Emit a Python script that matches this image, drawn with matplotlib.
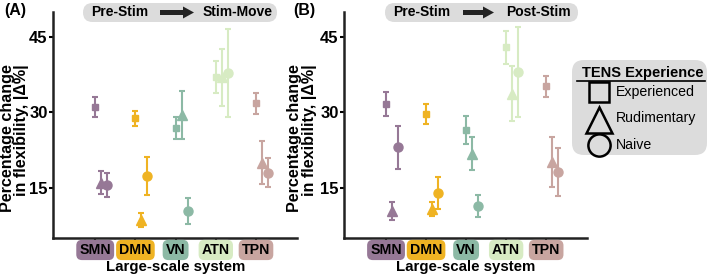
import matplotlib
matplotlib.use("Agg")
import matplotlib.pyplot as plt
from matplotlib.patches import FancyBboxPatch, FancyArrow
import numpy as np

plt.rcParams['font.family'] = ['Liberation Sans', 'DejaVu Sans']

systems = ["SMN", "DMN", "VN", "ATN", "TPN"]
colors = ["#967896", "#efb323", "#8cb9a5", "#d7ebc3", "#c8a5a0"]
groups = ["Experienced", "Rudimentary", "Naive"]
group_markers = ["s", "^", "o"]

# Panel A: Pre-Stim -> Stim-Move
a_exp_mean = [31.0, 28.8, 26.9, 37.0, 31.8]
a_exp_err = [2.0, 1.5, 2.2, 3.2, 2.1]
a_rud_mean = [16.0, 8.6, 29.5, 37.0, 20.0]
a_rud_err = [2.3, 1.4, 4.7, 5.7, 4.3]
a_nai_mean = [15.6, 17.3, 10.4, 37.8, 18.0]
a_nai_err = [2.4, 3.8, 2.6, 8.8, 2.9]

# Panel B: Pre-Stim -> Post-Stim
b_exp_mean = [31.6, 29.7, 26.5, 43.0, 35.2]
b_exp_err = [2.4, 2.0, 2.7, 3.3, 2.1]
b_rud_mean = [10.4, 10.8, 21.8, 33.7, 20.1]
b_rud_err = [1.8, 1.4, 3.3, 5.5, 5.0]
b_nai_mean = [23.1, 14.0, 11.4, 38.0, 18.2]
b_nai_err = [4.3, 3.2, 2.2, 9.0, 4.8]

yticks = [15, 30, 45]

W, H = 709.0, 276.0
fig = plt.figure(figsize=(W / 100, H / 100), dpi=100)

# overlay axes in pixel coordinates for decorations
ov = fig.add_axes([0, 0, 1, 1], zorder=0)
ov.set_xlim(0, W)
ov.set_ylim(H, 0)
ov.axis('off')

marker_sizes = [4.8, 6.5, 6.5]

def draw_panel(ax, means, errs, label_x):
    x = np.arange(1, len(systems) + 1)
    offsets = [0.0, 0.15, 0.3]
    for g, (m, e) in enumerate(zip(means, errs)):
        for i in range(len(systems)):
            ax.errorbar(x[i] + offsets[g], m[i], yerr=e[i], fmt=group_markers[g],
                        color=colors[i], ms=marker_sizes[g], elinewidth=1.5,
                        capsize=2.5, capthick=1.5, zorder=3)
    ax.set_xlim(-0.05, 6.02)
    ax.set_ylim(5, 50)
    ax.set_yticks(yticks)
    ax.set_yticklabels([str(t) for t in yticks], fontsize=12, fontweight='bold')
    ax.set_xticks(x)
    ax.set_xticklabels([])
    ax.tick_params(axis='x', length=4, width=1.5)
    ax.tick_params(axis='y', length=3, width=1.5, pad=0.8)
    ax.patch.set_alpha(0)
    for s in ['top', 'right']:
        ax.spines[s].set_visible(False)
    for s in ['left', 'bottom']:
        ax.spines[s].set_linewidth(1.8)
        ax.spines[s].set_color('#222222')
    for i, name in enumerate(systems):
        ax.text(x[i], -0.053, name, transform=ax.get_xaxis_transform(),
                ha='center', va='center', fontsize=10.2, fontweight='bold',
                bbox=dict(boxstyle='round,pad=0.22,rounding_size=0.4',
                          fc=colors[i], ec='none'))
    ax.text(3.0, -0.128, "Large-scale system", transform=ax.get_xaxis_transform(),
            ha='center', va='center', fontsize=10.8, fontweight='bold')
    ax.set_ylabel("Percentage change\nin flexibility, |\u0394%|", fontsize=11.6,
                  fontweight='bold', linespacing=0.95, multialignment='right')
    ax.yaxis.set_label_coords(label_x, 0.44)

axA = fig.add_axes([53 / W, 38 / H, 244 / W, 226 / H], zorder=2)
axB = fig.add_axes([344 / W, 38 / H, 243 / W, 226 / H], zorder=2)
draw_panel(axA, [a_exp_mean, a_rud_mean, a_nai_mean],
           [a_exp_err, a_rud_err, a_nai_err], -0.097)
draw_panel(axB, [b_exp_mean, b_rud_mean, b_nai_mean],
           [b_exp_err, b_rud_err, b_nai_err], -0.112)

def header(x0, x1, left_txt, right_txt, lc, rc, a0, a1):
    y0, y1 = 3, 22
    ov.add_patch(FancyBboxPatch((x0, y0), x1 - x0, y1 - y0,
                                boxstyle='round,pad=0,rounding_size=9.5',
                                fc='#dcdcdc', ec='none'))
    yc = 12.5
    ov.text(lc, yc, left_txt, ha='center', va='center', fontsize=10,
            fontweight='bold')
    ov.text(rc, yc, right_txt, ha='center', va='center', fontsize=10,
            fontweight='bold')
    ov.add_patch(FancyArrow(a0, yc, a1 - a0, 0, width=5, head_width=12,
                            head_length=11, length_includes_head=True,
                            fc='#222222', ec='none'))

header(83, 277, "Pre-Stim", "Stim-Move", 120, 238, 160, 194)
header(385, 578, "Pre-Stim", "Post-Stim", 422, 538, 463, 494)

ov.text(4, 11, "(A)", ha='left', va='center', fontsize=11.5, fontweight='bold')
ov.text(293, 11, "(B)", ha='left', va='center', fontsize=11.5, fontweight='bold')

# Legend
lx0, lx1, ly0, ly1 = 572, 707, 60, 155
ov.add_patch(FancyBboxPatch((lx0, ly0), lx1 - lx0, ly1 - ly0,
                            boxstyle='round,pad=0,rounding_size=12',
                            fc='#dcdcdc', ec='none'))
ov.text(643, 72.5, "TENS Experience", ha='center', va='center',
        fontsize=10.5, fontweight='bold')
ov.plot([577, 705], [80.5, 80.5], color='black', lw=1.2)
ly = [92, 118, 145]
lms = [14, 19, 16]
for g in range(3):
    ov.plot([599], [ly[g] + (1.5 if g == 1 else 0)], marker=group_markers[g],
            ms=lms[g], mfc='none', mec='black', mew=1.8, ls='none')
    ov.text(616, ly[g], groups[g], ha='left', va='center', fontsize=10.2)

fig.savefig("out.png", dpi=100)
